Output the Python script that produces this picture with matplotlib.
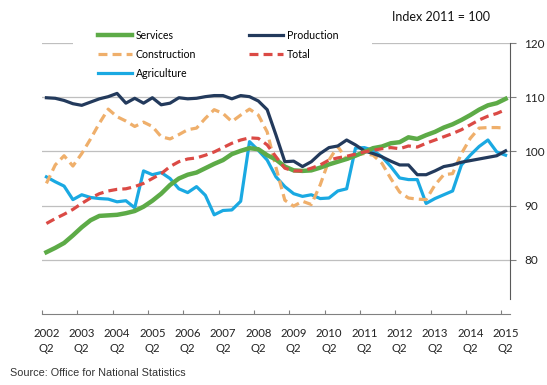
import matplotlib
matplotlib.use("Agg")
import matplotlib.pyplot as plt
from matplotlib.patches import Rectangle
import numpy as np

years = list(range(2002, 2016))
tick_labels = [f"{y}\nQ2" for y in years]

services = [81.4, 82.2, 83.1, 84.5, 86.0, 87.3, 88.1, 88.2, 88.3, 88.6,
            89.0, 89.8, 90.9, 92.2, 93.8, 95.0, 95.7, 96.1, 96.9, 97.7,
            98.4, 99.5, 100.1, 100.6, 100.4, 99.3, 98.5, 97.2, 96.5, 96.4,
            96.5, 97.0, 97.6, 98.1, 98.6, 99.2, 99.9, 100.6, 100.9, 101.5,
            101.7, 102.6, 102.3, 103.0, 103.6, 104.4, 105.0, 105.8, 106.7, 107.7,
            108.5, 108.9, 109.7]
production = [109.9, 109.8, 109.4, 108.8, 108.5, 109.1, 109.7, 110.1, 110.7, 108.9,
              109.8, 108.9, 109.9, 108.6, 108.9, 109.9, 109.7, 109.8, 110.1, 110.3,
              110.3, 109.7, 110.3, 110.1, 109.3, 107.7, 103.0, 98.1, 98.2, 97.2,
              98.1, 99.6, 100.7, 101.0, 102.1, 101.2, 100.1, 99.6, 99.0, 98.2,
              97.5, 97.5, 95.7, 95.7, 96.4, 97.2, 97.5, 98.0, 98.3, 98.6,
              98.9, 99.2, 100.1]
construction = [94.1, 97.5, 99.2, 97.3, 99.6, 102.3, 105.2, 107.8, 106.4, 105.6,
                104.6, 105.4, 104.6, 102.7, 102.3, 103.1, 104.0, 104.3, 106.1, 107.7,
                107.0, 105.5, 106.7, 107.8, 106.7, 103.6, 97.0, 91.0, 89.9, 90.8,
                90.2, 93.8, 98.4, 100.9, 98.5, 99.3, 99.6, 99.3, 97.8, 95.0,
                92.5, 91.4, 91.2, 91.1, 93.8, 95.7, 95.9, 99.6, 102.4, 104.3,
                104.4, 104.4, 104.3]
total = [86.7, 87.6, 88.4, 89.3, 90.4, 91.4, 92.2, 92.7, 93.0, 93.1,
         93.5, 94.1, 95.0, 95.9, 97.2, 98.1, 98.6, 98.8, 99.3, 99.9,
         100.7, 101.5, 102.1, 102.5, 102.4, 101.2, 99.0, 96.9, 96.4, 96.4,
         96.9, 97.5, 98.4, 98.8, 99.1, 99.5, 99.9, 100.2, 100.5, 100.7,
         100.5, 101.0, 100.8, 101.5, 102.1, 102.7, 103.3, 104.0, 104.9, 105.8,
         106.5, 107.0, 107.7]
agriculture = [95.3, 94.4, 93.6, 91.1, 92.0, 91.5, 91.3, 91.2, 90.7, 90.9,
               89.6, 96.4, 95.7, 96.1, 95.0, 93.1, 92.4, 93.5, 91.9, 88.3,
               89.1, 89.2, 90.8, 101.8, 100.2, 98.4, 95.3, 93.5, 92.2, 91.7,
               92.0, 91.3, 91.4, 92.7, 93.1, 100.6, 100.7, 100.2, 99.0, 97.2,
               95.1, 94.8, 94.8, 90.4, 91.3, 92.0, 92.7, 97.5, 99.3, 100.9,
               102.1, 99.9, 99.3]

n = len(services)
x = np.arange(n)

FONT = "Lato"
fig = plt.figure(figsize=(5.47, 3.85), dpi=100)
ax = fig.add_axes([42/547, 1-314/385, (510-42)/547, (314-43)/385])

dash = (0, (2.8, 1.6))
ax.plot(x, agriculture, color="#1AA9E2", lw=2.3, label="Agriculture", zorder=3)
ax.plot(x, construction, color="#EFAF6B", lw=2.3, ls=dash, label="Construction", zorder=3)
ax.plot(x, production, color="#233A5C", lw=2.3, label="Production", zorder=4)
ax.plot(x, services, color="#5DAB47", lw=3.2, label="Services", zorder=4)
ax.plot(x, total, color="#DB4A45", lw=2.3, ls=dash, label="Total", zorder=5)

ax.set_xlim(-0.5, n - 0.5)
ax.set_ylim(70, 120)
ax.set_yticks([80, 90, 100, 110, 120])
ax.grid(axis="y", color="#BFBFBF", lw=0.9)
ax.set_axisbelow(True)

for s in ["top", "left"]:
    ax.spines[s].set_visible(False)
ax.spines["right"].set_color("#595959")
ax.spines["right"].set_bounds(72.8, 120)
ax.spines["bottom"].set_color("#808080")
ax.yaxis.tick_right()
ax.tick_params(axis="y", direction="out", length=4, color="#808080",
               labelsize=8.5, labelcolor="#222222", pad=6)
for lab in ax.get_yticklabels():
    lab.set_fontfamily(FONT)

ax.set_xticks(np.arange(-0.5, n, 4))
ax.set_xticklabels([])
ax.tick_params(axis="x", which="major", direction="in", length=3, color="#808080")
ax.set_xticks(np.arange(0, n, 4), minor=True)
ax.set_xticklabels(tick_labels, minor=True, fontsize=8.2, fontfamily=FONT,
                   color="#222222", linespacing=1.45)
ax.tick_params(axis="x", which="minor", length=0, pad=10)

# white mask behind the legend covering the top gridline
fig.add_artist(Rectangle((73/547, 1-80/385), (372-73)/547, 50/385,
                         transform=fig.transFigure, facecolor="white",
                         edgecolor="none", zorder=5))

handles, labels = ax.get_legend_handles_labels()
order = ["Services", "Construction", "Agriculture", "Production", "Total"]
hmap = dict(zip(labels, handles))
leg = fig.legend([hmap[k] for k in order], order, loc="upper left",
                 bbox_to_anchor=(98/547, 1-30/385), ncol=2, frameon=False,
                 prop={"family": FONT, "size": 7.6}, handlelength=3.2,
                 columnspacing=5.0, labelspacing=0.75, handletextpad=0.4,
                 borderpad=0.0, borderaxespad=0.0)
leg.set_zorder(10)

fig.text(490/547, 1-17/385, "Index 2011 = 100", ha="right", va="center",
         fontsize=9, fontfamily=FONT, color="#111111")
fig.text(10/547, 1-373/385, "Source: Office for National Statistics", ha="left",
         va="center", fontsize=7.8, fontfamily="Liberation Sans", color="#333333")

fig.savefig("out.png", dpi=100)
